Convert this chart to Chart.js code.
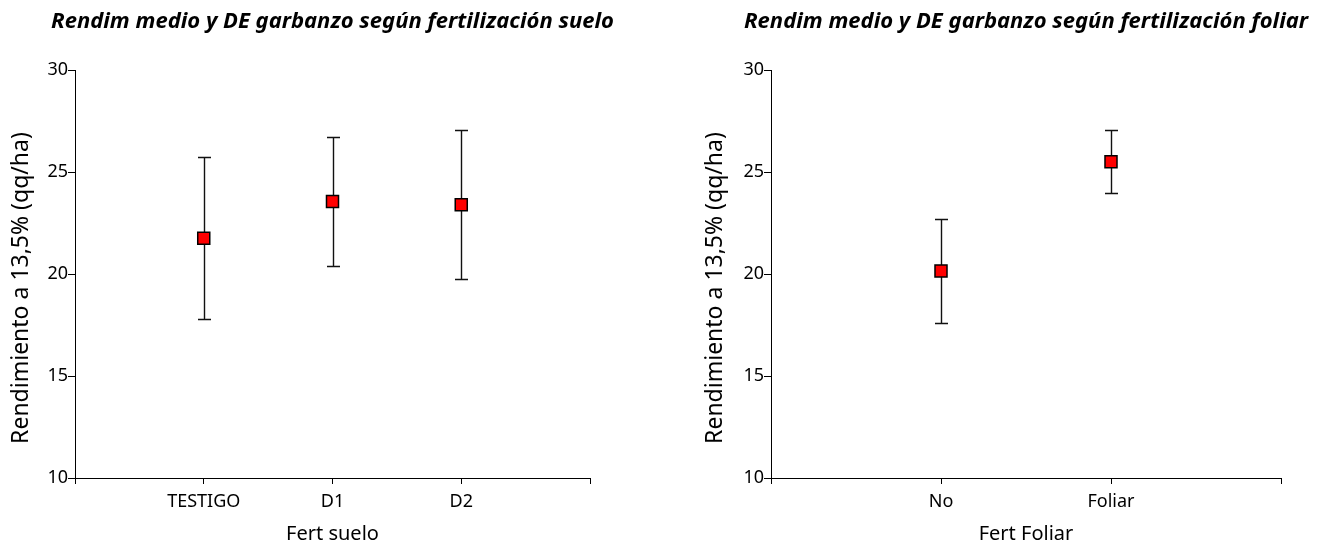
<!DOCTYPE html>
<html>
<head>
<meta charset="utf-8">
<script src="https://cdn.jsdelivr.net/npm/chart.js@4.4.1/dist/chart.umd.min.js"></script>
<style>
    body { margin: 0; background: #fff; }
    .panel { position: absolute; top: 0; width: 660px; height: 544px; }
</style>
</head>
<body>
<div class="panel" style="left:0"><canvas id="soilChart" width="660" height="544"></canvas></div>
<div class="panel" style="left:660px"><canvas id="foliarChart" width="660" height="544"></canvas></div>
<script>
// rendimiento medio (qq/ha) y desvio estandar
const soilLabels = ["TESTIGO", "D1", "D2"];
const soilMeans = [21.75, 23.55, 23.4];
const soilSD = [3.97, 3.15, 3.66];

const foliarLabels = ["No", "Foliar"];
const foliarMeans = [20.15, 25.5];
const foliarSD = [2.55, 1.55];

const yMin = 10;
const yMax = 30;
const yStep = 5;
const yTitle = "Rendimiento a 13,5% (qq/ha)";

const FONT = "'Noto Sans', sans-serif";

// dibuja las barras de DE detras de los marcadores
const errorBars = {
    id: "errorBars",
    beforeDatasetsDraw(chart, args, opts) {
        const ctx = chart.ctx;
        const x = chart.scales.x;
        const y = chart.scales.y;
        const points = chart.data.datasets[0].data;
        ctx.save();
        ctx.strokeStyle = "#111";
        ctx.lineWidth = 1.4;
        points.forEach((p, i) => {
            const px = Math.round(x.getPixelForValue(p.x)) + 0.5;
            const top = Math.round(y.getPixelForValue(p.y + opts.sd[i])) + 0.5;
            const bottom = Math.round(y.getPixelForValue(p.y - opts.sd[i])) + 0.5;
            ctx.beginPath();
            ctx.moveTo(px, top);
            ctx.lineTo(px, bottom);
            ctx.moveTo(px - 6.5, top);
            ctx.lineTo(px + 6.5, top);
            ctx.moveTo(px - 6.5, bottom);
            ctx.lineTo(px + 6.5, bottom);
            ctx.stroke();
        });
        ctx.restore();
    }
};

// titulos: el del grafico (sin comprimir) y el del eje Y,
// centrado sobre eje + etiquetas de X como en el original
const titles = {
    id: "titles",
    afterDraw(chart, args, opts) {
        const ctx = chart.ctx;
        const area = chart.chartArea;
        ctx.save();
        ctx.fillStyle = "#000";
        ctx.textAlign = "center";
        ctx.textBaseline = "middle";

        ctx.font = "italic bold 22px " + FONT;
        ctx.fillText(opts.text, (area.left + area.right) / 2, 22);

        ctx.translate(opts.x, (area.top + area.bottom) / 2 + 14);
        ctx.rotate(-Math.PI / 2);
        ctx.font = "23px " + FONT;
        ctx.fillText(yTitle, 0, 0);
        ctx.restore();
    }
};

function makeChart(id, labels, means, sd, title, xTitle, pad) {
    const ctx = document.getElementById(id).getContext("2d");
    return new Chart(ctx, {
        type: "scatter",
        data: {
            datasets: [{
                data: means.map((m, i) => ({ x: i + 1, y: m })),
                pointStyle: "rect",
                pointRadius: 8.5,
                pointHoverRadius: 8.5,
                backgroundColor: "#ff0000",
                borderColor: "#000",
                borderWidth: 1.5
            }]
        },
        options: {
            responsive: false,
            animation: false,
            devicePixelRatio: 1,
            layout: { padding: { left: pad.left, right: pad.right, top: 70, bottom: 0 } },
            plugins: {
                legend: { display: false },
                tooltip: { enabled: false },
                title: { display: false },
                errorBars: { sd: sd },
                titles: { text: title, x: pad.left + 21 }
            },
            scales: {
                x: {
                    type: "linear",
                    min: 0,
                    max: labels.length + 1,
                    afterFit: s => { s.height = 66; },
                    afterBuildTicks: s => {
                        s.ticks = [];
                        for (let v = 0; v <= labels.length + 1; v++) s.ticks.push({ value: v });
                    },
                    ticks: {
                        autoSkip: false,
                        maxRotation: 0,
                        color: "#000",
                        padding: 7,
                        font: { family: FONT, size: 18 },
                        callback: v => labels[v - 1] || ""
                    },
                    grid: { drawOnChartArea: false, drawTicks: true, tickLength: 6, color: "#000" },
                    border: { display: true, color: "#000", width: 1 },
                    title: {
                        display: true,
                        text: xTitle,
                        color: "#000",
                        font: { family: FONT, size: 20 },
                        padding: { top: 0, bottom: -2 }
                    }
                },
                y: {
                    min: yMin,
                    max: yMax,
                    afterFit: s => { s.width = pad.axis; },
                    ticks: {
                        stepSize: yStep,
                        color: "#000",
                        padding: 0,
                        font: { family: FONT, size: 18 }
                    },
                    grid: { drawOnChartArea: false, drawTicks: true, tickLength: 7, color: "#000" },
                    border: { display: true, color: "#000", width: 1 }
                }
            }
        },
        plugins: [errorBars, titles]
    });
}

makeChart("soilChart", soilLabels, soilMeans, soilSD,
    "Rendim medio y DE garbanzo según fertilización suelo", "Fert suelo",
    { left: 0, right: 70, axis: 75 });
makeChart("foliarChart", foliarLabels, foliarMeans, foliarSD,
    "Rendim medio y DE garbanzo según fertilización foliar", "Fert Foliar",
    { left: 34, right: 39, axis: 77 });
</script>
</body>
</html>
